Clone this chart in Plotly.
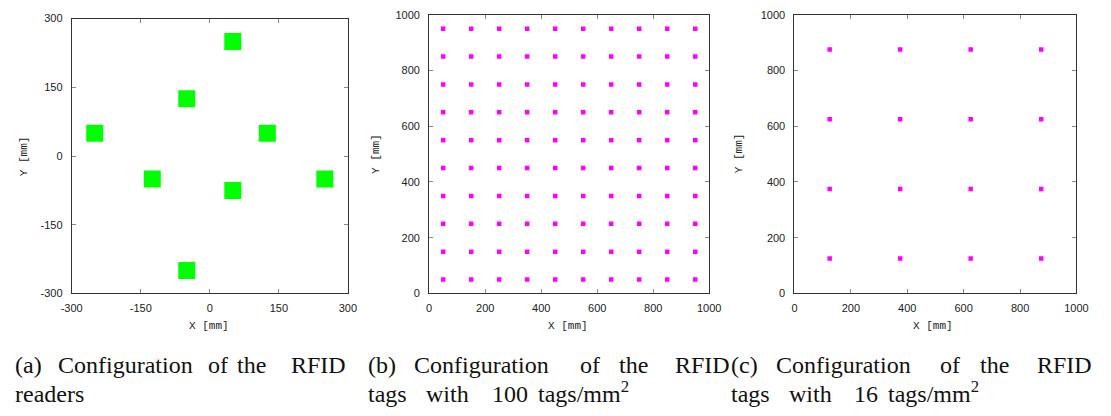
import plotly.graph_objects as go

W, H = 1111, 416

# ---- data ----
reader_x = [50, -50, -250, 125, -125, 50, 250, -50]
reader_y = [250, 125, 50, 50, -50, -75, -50, -250]

tag100_coords = [50, 150, 250, 350, 450, 550, 650, 750, 850, 950]
tag16_coords = [125, 375, 625, 875]

ticks_a = [-300, -150, 0, 150, 300]
ticklabels_a = ["-300", "-150", "0", "150", "300"]
ticks_bc = [0, 200, 400, 600, 800, 1000]
ticklabels_bc = ["0", "200", "400", "600", "800", "1000"]

tag100_x = [x for y in tag100_coords for x in tag100_coords]
tag100_y = [y for y in tag100_coords for x in tag100_coords]
tag16_x = [x for y in tag16_coords for x in tag16_coords]
tag16_y = [y for y in tag16_coords for x in tag16_coords]

# caption words: (text, left px, bottom px)
L1, L2 = 384, 414
captions = [
    ("(a)", 3, L1), ("Configuration", 47, L1), ("of", 200, L1), ("the", 230, L1), ("RFID", 285, L1),
    ("readers", 3, L2),
    ("(b)", 364, L1), ("Configuration", 410, L1), ("of", 580, L1), ("the", 620, L1), ("RFID", 677, L1),
    ("tags", 364, L2), ("with", 423, L2), ("100", 490, L2), ("tags/mm<sup>2</sup>", 537, L2),
    ("(c)", 734, L1), ("Configuration", 780, L1), ("of", 948, L1), ("the", 988, L1), ("RFID", 1047, L1),
    ("tags", 734, L2), ("with", 793, L2), ("16", 860, L2), ("tags/mm<sup>2</sup>", 895, L2),
]


def px_x(p):
    return p / W


def px_y(p):
    return 1 - p / H


fig = go.Figure()
fig.add_trace(go.Scatter(x=reader_x, y=reader_y, mode="markers",
                         marker=dict(symbol="square", size=17, color="#00ff00", line=dict(width=0)),
                         xaxis="x", yaxis="y", showlegend=False))
fig.add_trace(go.Scatter(x=tag100_x, y=tag100_y, mode="markers",
                         marker=dict(symbol="square", size=4.5, color="#ff00ff", line=dict(width=0)),
                         xaxis="x2", yaxis="y2", showlegend=False))
fig.add_trace(go.Scatter(x=tag16_x, y=tag16_y, mode="markers",
                         marker=dict(symbol="square", size=4.5, color="#ff00ff", line=dict(width=0)),
                         xaxis="x3", yaxis="y3", showlegend=False))

common = dict(showgrid=False, zeroline=False, showline=True, linecolor="#333333", linewidth=1,
              mirror="ticks", ticks="inside", ticklen=4, tickcolor="#888888", tickwidth=1,
              tickfont=dict(family="Liberation Sans", size=11, color="#222222"), fixedrange=True)

panels = [
    # (x0, x1, top, bottom) in px
    (62, 344, 13, 296),
    (427, 713, 9, 296),
    (800, 1088, 9, 296),
]

layout = dict(width=W, height=H, margin=dict(l=0, r=0, t=0, b=0),
              paper_bgcolor="white", plot_bgcolor="white", showlegend=False)

for i, (x0, x1, t, b) in enumerate(panels):
    sx = "" if i == 0 else str(i + 1)
    rng = [-300, 300] if i == 0 else [0, 1000]
    tv = ticks_a if i == 0 else ticks_bc
    tt = ticklabels_a if i == 0 else ticklabels_bc
    layout["xaxis" + sx] = dict(common, domain=[px_x(x0), px_x(x1)], range=rng, tickvals=tv, ticktext=tt,
                                anchor="y" + sx, ticklabelstandoff=4)
    layout["yaxis" + sx] = dict(common, domain=[px_y(b), px_y(t)], range=rng, tickvals=tv, ticktext=tt,
                                anchor="x" + sx, ticklabelstandoff=6)

fig.update_layout(**layout)

annotations = []
# axis titles
xt = [(202, 329), (569, 329), (942, 329)]
yt = [(13, 155), (372, 152), (743, 152)]
for (cx, cy) in xt:
    annotations.append(dict(text="X [mm]", x=px_x(cx), y=px_y(cy), xref="paper", yref="paper",
                            showarrow=False, xanchor="center", yanchor="middle",
                            font=dict(family="Liberation Mono", size=11, color="#222222")))
for (cx, cy) in yt:
    annotations.append(dict(text="Y [mm]", x=px_x(cx), y=px_y(cy), xref="paper", yref="paper",
                            showarrow=False, xanchor="center", yanchor="middle", textangle=-90,
                            font=dict(family="Liberation Mono", size=11, color="#222222")))
for (txt, lx, by) in captions:
    annotations.append(dict(text=txt, x=px_x(lx), y=px_y(by), xref="paper", yref="paper",
                            showarrow=False, xanchor="left", yanchor="bottom", borderpad=0,
                            font=dict(family="Liberation Serif", size=24, color="#111111")))

fig.update_layout(annotations=annotations)
fig.write_html("out.html")
